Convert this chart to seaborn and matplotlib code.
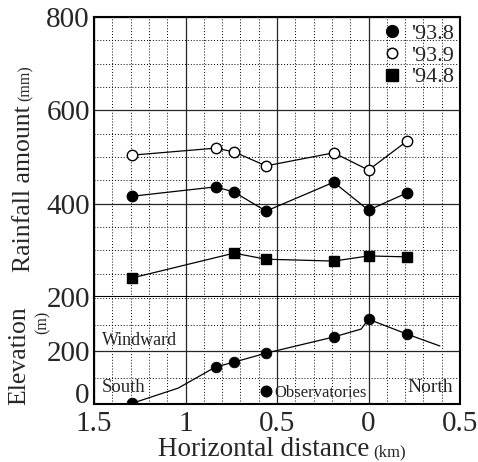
import matplotlib
matplotlib.use("Agg")
import matplotlib.pyplot as plt
import matplotlib.transforms as mtrans
import seaborn as sns
from matplotlib.lines import Line2D
from matplotlib.ticker import MultipleLocator, FixedLocator, FixedFormatter

# ---------------- data ----------------
# horizontal distance (km); negative = south of the summit (labels show |x|)
station_km = [-1.29, -0.835, -0.735, -0.56, -0.19, 0.0, 0.21]
rain_9308 = [416, 436, 425, 384, 446, 386, 423]
rain_9309 = [504, 519, 511, 481, 509, 472, 534]
station_km_9408 = [-1.29, -0.735, -0.56, -0.19, 0.0, 0.21]
rain_9408 = [241, 294, 281, 277, 288, 286]
station_elev = [3, 140, 158, 192, 253, 320, 264]
terrain_km = [-1.29, -1.04, -0.835, -0.735, -0.56, -0.19, -0.04, 0.0, 0.21, 0.39]
terrain_elev = [3, 60, 140, 158, 192, 253, 283, 320, 264, 219]
series_labels = ["'93.8", "'93.9", "'94.8"]
xtick_vals = [-1.5, -1.0, -0.5, 0.0, 0.5]
xtick_labels = ["1.5", "1", "0.5", "0", "0.5"]
rain_ticks = [200, 400, 600, 800]
elev_ticks = [0, 200]

# ---------------- style ----------------
sns.set_style("ticks")
plt.rcParams["font.family"] = ["Liberation Serif", "DejaVu Serif"]

W, H = 478, 462
fig = plt.figure(figsize=(W / 100, H / 100), dpi=100)
L, R = 94 / W, 460 / W
ax_top = fig.add_axes([L, 1 - 297 / H, R - L, 280 / H])
ax_bot = fig.add_axes([L, 1 - 404 / H, R - L, 107 / H], sharex=ax_top)

line_kw = dict(color="black", lw=0.9, markersize=7.5, markeredgecolor="black",
               markeredgewidth=1.0, zorder=3)
sns.lineplot(x=station_km, y=rain_9309, ax=ax_top, marker="o",
             markerfacecolor="white", **line_kw)
sns.lineplot(x=station_km, y=rain_9308, ax=ax_top, marker="o",
             markerfacecolor="black", **line_kw)
sns.lineplot(x=station_km_9408, y=rain_9408, ax=ax_top, marker="s",
             markerfacecolor="black", **line_kw)

sns.lineplot(x=terrain_km, y=terrain_elev, ax=ax_bot, color="black", lw=0.9, zorder=3)
sns.scatterplot(x=station_km, y=station_elev, ax=ax_bot, color="black", s=58,
                edgecolor="black", zorder=4)

for ax in (ax_top, ax_bot):
    ax.set_xlim(-1.5, 0.5)
    ax.xaxis.set_major_locator(FixedLocator(xtick_vals))
    ax.xaxis.set_minor_locator(MultipleLocator(0.1))
    ax.grid(which="minor", ls=(0, (1, 2)), color="black", lw=0.7)
    ax.grid(which="major", ls="-", color="0.15", lw=0.9)
    ax.tick_params(which="both", length=0, labelsize=21)
    ax.tick_params(axis="y", pad=3)
    ax.tick_params(axis="x", pad=5)
    for sp in ax.spines.values():
        sp.set_linewidth(1.5)
        sp.set_color("black")
        sp.set_visible(True)
    ax.set_xlabel("")
    ax.set_ylabel("")
    ax.set_axisbelow(True)
ax_bot.spines["top"].set_visible(False)

ax_top.set_ylim(200, 800)
ax_top.yaxis.set_major_locator(FixedLocator(rain_ticks))
ax_top.yaxis.set_minor_locator(MultipleLocator(50))
ax_top.tick_params(labelbottom=False)

ax_bot.set_ylim(0, 404)
ax_bot.yaxis.set_major_locator(FixedLocator(elev_ticks))
ax_bot.yaxis.set_minor_locator(MultipleLocator(100))
ax_bot.xaxis.set_major_formatter(FixedFormatter(xtick_labels))

# legend (top panel)
handles = [
    Line2D([], [], ls="none", marker="o", color="k", mfc="k", ms=8.5),
    Line2D([], [], ls="none", marker="o", color="k", mfc="white", ms=7.5, mew=1.1),
    Line2D([], [], ls="none", marker="s", color="k", mfc="k", ms=8),
]
ax_top.legend(handles, series_labels, loc="upper left", bbox_to_anchor=(0.785, 0.985),
              frameon=False, fontsize=16, handlelength=0.8, handletextpad=0.45,
              labelspacing=0.05, borderaxespad=0, borderpad=0.1)

# legend (bottom panel)
obs_handle = Line2D([], [], ls="none", marker="o", color="k", mfc="k", ms=7.6)
ax_bot.legend([obs_handle], ["Observatories"], loc="lower left",
              bbox_to_anchor=(0.455, 0.03), frameon=False, fontsize=12,
              handlelength=0.6, handletextpad=0.25, borderaxespad=0, borderpad=0)

ax_bot.text(-1.455, 223, "Windward", fontsize=13, va="baseline", ha="left")
ax_bot.text(-1.455, 45, "South", fontsize=13.5, va="baseline", ha="left")
ax_bot.text(0.21, 45, "North", fontsize=14, va="baseline", ha="left")

# raise the elevation "0" label a little so it clears the "1.5" below it
fig.canvas.draw()
for lab in ax_bot.get_yticklabels():
    if lab.get_text() == "0":
        lab.set_transform(lab.get_transform() +
                          mtrans.ScaledTranslation(0, 11 / 100, fig.dpi_scale_trans))

rend = fig.canvas.get_renderer()

def px(x, y):
    return x / W, 1 - y / H

t1 = fig.text(*px(30, 272), "Rainfall amount", fontsize=18.5, rotation=90,
              rotation_mode="anchor", ha="left", va="baseline")
bb = t1.get_window_extent(rend)
fig.text(30 / W, (bb.y1 + 4) / H, "(mm)", fontsize=11.5, rotation=90,
         rotation_mode="anchor", ha="left", va="baseline")

fig.text(*px(25, 405), "Elevation", fontsize=18.5, rotation=90,
         rotation_mode="anchor", ha="left", va="baseline")
fig.text(*px(47, 334), "(m)", fontsize=11.5, rotation=90,
         rotation_mode="anchor", ha="left", va="baseline")

t3 = fig.text(*px(158, 456), "Horizontal distance", fontsize=19.5,
              ha="left", va="baseline")
bb = t3.get_window_extent(rend)
fig.text((bb.x1 + 4) / W, 1 - 456 / H, "(km)", fontsize=12, ha="left", va="baseline")

fig.savefig("out.png", dpi=100)
